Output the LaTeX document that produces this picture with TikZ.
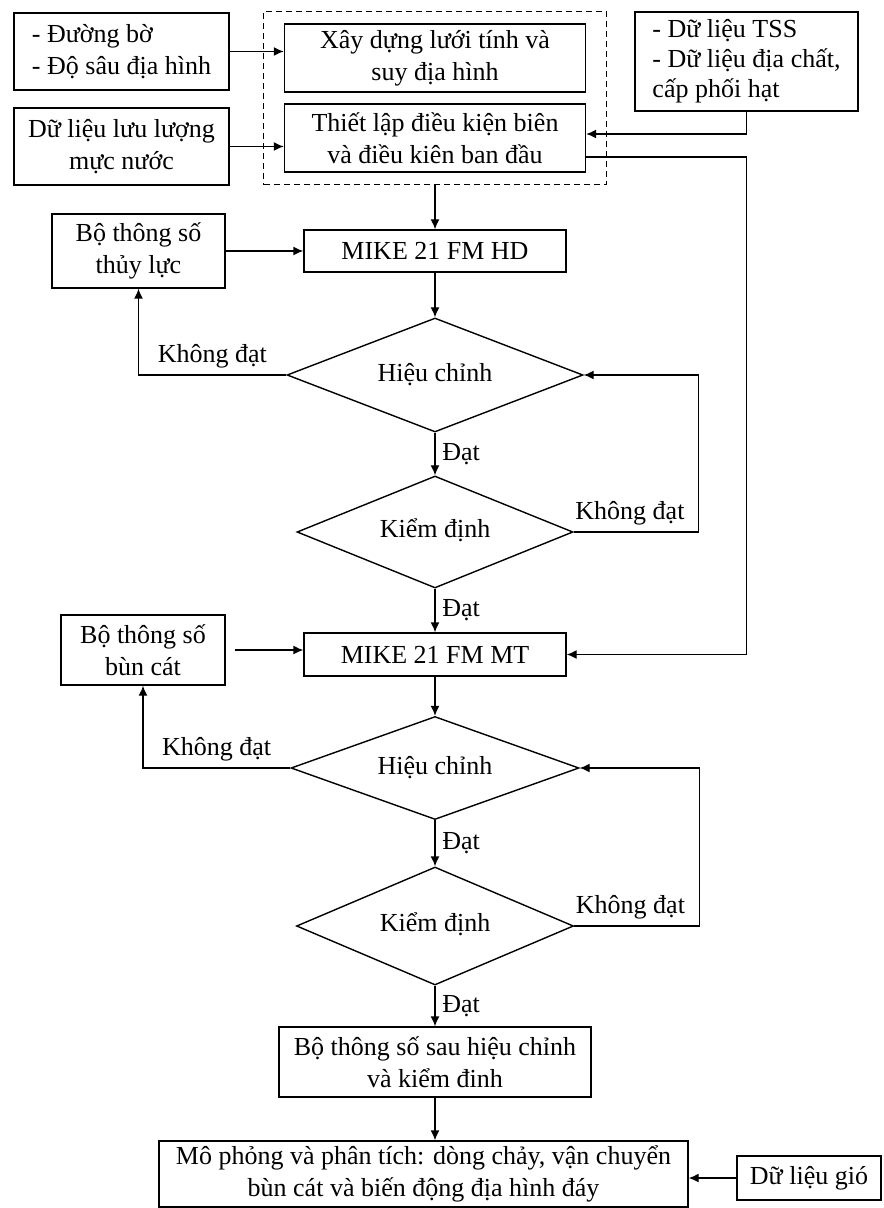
\documentclass[tikz,border=0pt]{standalone}
\usepackage{fontspec}
\setmainfont{Liberation Serif}
\usepackage{tikz}
\usetikzlibrary{positioning}
\usetikzlibrary{shapes,arrows,calc,arrows.meta,fit}

\tikzset{
  box/.style={draw,rectangle,align=center,inner sep=1pt,font=\fontsize{13}{16}\selectfont},
  test/.style={draw,diamond,aspect=2.5,inner sep=0pt,font=\fontsize{13}{16}\selectfont},
  lbl/.style={font=\fontsize{13}{16}\selectfont},
}

\begin{document}
\begin{tikzpicture}[x=0.5pt,y=-0.5pt,on grid,line width=0.7pt,>={Latex[length=5pt,width=4.5pt]}]
   \useasboundingbox (0,0) rectangle (883,1208);
   % du lieu dau vao
   \node[box,minimum width=150.5pt,minimum height=34pt] (xd) at (435,58) {Xây dựng lưới tính và\\suy địa hình};
   \node[box,minimum width=150.5pt,minimum height=34pt] (tl) [below=40pt of xd] {Thiết lập điều kiện biên\\và điều kiên ban đầu};
   \node[draw,dash pattern=on 3pt off 2pt,line width=0.6pt,inner xsep=10pt,inner ysep=6pt,fit=(xd)(tl)] (frame) {};
   \node[box,align=left,minimum width=107.5pt,minimum height=38.5pt] (db) [above left=3.25pt and 156.75pt of xd] {- Đường bờ\\- Độ sâu địa hình};
   \node[box,minimum width=107.5pt,minimum height=38.5pt] (ll) [below left=4.25pt and 156.75pt of tl] {Dữ liệu lưu lượng\\mực nước};
   \node[box,align=left,minimum width=111.5pt,minimum height=49.5pt,font=\fontsize{13}{15}\selectfont] (tss) [below right=1.75pt and 155.75pt of xd] {- Dữ liệu TSS\\- Dữ liệu địa chất,\\cấp phối hạt};
   % thuy luc
   \node[box,minimum width=131pt,minimum height=21pt] (hd) [below=56.5pt of tl] {MIKE 21 FM HD};
   \node[box,minimum width=86.5pt,minimum height=37pt] (tluc) [left=148.25pt of hd] {Bộ thông số\\thủy lực};
   \node[test,minimum width=148pt,minimum height=57pt] (hc_1) [below=62pt of hd] {\raisebox{2.5pt}{Hiệu chỉnh}};
   \node[test,minimum width=138pt,minimum height=56pt] (kd_1) [below=78.5pt of hc_1] {\raisebox{4pt}{Kiểm định}};
   % bun cat
   \node[box,minimum width=131pt,minimum height=21.5pt] (mt) [below=61.25pt of kd_1] {MIKE 21 FM MT};
   \node[box,minimum width=82pt,minimum height=35pt] (bc) [above left=2.25pt and 146pt of mt] {Bộ thông số\\bùn cát};
   \node[test,minimum width=144pt,minimum height=51.5pt] (hc_2) [below=56.75pt of mt] {\raisebox{2.5pt}{Hiệu chỉnh}};
   \node[test,minimum width=138.5pt,minimum height=59pt] (kd_2) [below=79pt of hc_2] {\raisebox{4pt}{Kiểm định}};
   % ket qua
   \node[box,minimum width=156pt,minimum height=35pt] (sau) [below=68pt of kd_2] {Bộ thông số sau hiệu chỉnh\\và kiểm đinh};
   \node[box,minimum width=264.5pt,minimum height=33pt] (mp) [below left=56pt and 5.75pt of sau] {Mô phỏng và phân tích: dòng chảy, vận chuyển\\bùn cát và biến động địa hình đáy};
   \node[box,minimum width=72pt,minimum height=22pt] (gio) [below right=2pt and 192.75pt of mp] {Dữ liệu gió};

   \draw[->] (db) -- (db -| xd.west);
   \draw[->] (ll) -- (ll -| tl.west);
   \draw[->] (tss) |- ([yshift=2pt]tl.east);
   \draw[->] ([yshift=-9.5pt]tl.east) -| (tss.south |- mt) -- (mt);
   \draw[->] (frame) -- (hd);
   \draw[->] (tluc) -- (hd);
   \draw[->] (hd) -- (hc_1);
   \draw[->] (hc_1) -- node[lbl,right] {Đạt} (kd_1);
   \draw[->] (hc_1.west) -| node[lbl,above,pos=0.25] {Không đạt} (tluc);
   \draw[->] (kd_1.east) -- node[lbl,above,pos=0.45] {Không đạt} ++(62.5pt,0) |- (hc_1.east);
   \draw[->] (kd_1) -- node[lbl,right] {Đạt} (mt);
   \draw[->,shorten <=4.5pt] (bc) -- (bc -| mt.west);
   \draw[->] (mt) -- (hc_2);
   \draw[->] (hc_2) -- node[lbl,right] {Đạt} (kd_2);
   \draw[->] (hc_2.west) -| node[lbl,above,pos=0.25] {Không đạt} (bc);
   \draw[->] (kd_2.east) -- node[lbl,above,pos=0.45] {Không đạt} ++(62.5pt,0) |- (hc_2.east);
   \draw[->] (kd_2) -- node[lbl,right] {Đạt} (sau);
   \draw[->] (sau) -- (sau |- mp.north);
   \draw[->] (gio.west) -- (gio.west -| mp.east);
\end{tikzpicture}
\end{document}
